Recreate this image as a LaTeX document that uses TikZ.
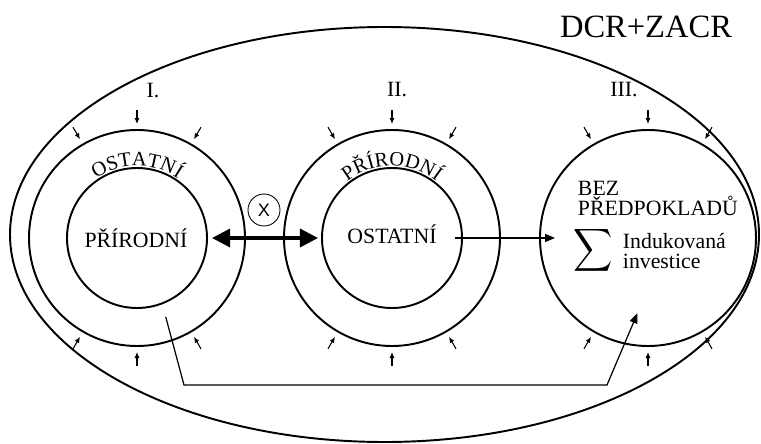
\documentclass[tikz,border=0pt]{standalone}
\usepackage{amsmath}
\usepackage{fontspec}
\setmainfont{Liberation Serif}
\newfontfamily\crossfont{Liberation Sans}
\usetikzlibrary{arrows.meta,decorations.text}

\newcommand{\txtfont}{\fontsize{12.4}{14}\selectfont}
\newcommand{\arcfont}{\fontsize{11.6}{14}\selectfont}

\tikzset{
  ring/.style={circle, draw, inner sep=0pt, outer sep=0pt, minimum size=43.2mm},
  core/.style={circle, draw, inner sep=0pt, outer sep=0pt, minimum size=28mm},
  lbl/.style={font=\txtfont, inner sep=0pt},
  inward/.style={line width=0.6pt, -{Latex[length=1.2mm,width=1mm]}},
  flow/.style={line width=0.7pt, -{Triangle[length=2mm,width=1.6mm]}},
  arctext/.style={decorate, decoration={text along path, text align=center, text={|\arcfont|#1}}},
}

\begin{document}
\begin{tikzpicture}[x=0.2mm, y=0.2mm, line width=1.1pt]
\useasboundingbox (0,0) rectangle (761,443);

% outer zone
\draw (384.5,208.5) ellipse [x radius=374.5, y radius=207.5];
\node[font=\fontsize{18.5}{20}\selectfont, inner sep=0pt] (zone) at (646,416) {DCR+ZACR};

% circles I, II, III
\node[ring] (ringI) at (137,205) {};
\node[core] (coreI) at (137,205) {};
\node[ring] (ringII) at (392,205) {};
\node[core] (coreII) at (392,205) {};
\node[ring] (ringIII) at (648,205) {};

\node[lbl] (numI) at (153,352) {I.};
\node[lbl] (numII) at (397,353) {II.};
\node[lbl] (numIII) at (624,353) {III.};

% small arrows pointing in
\foreach \c in {ringI,ringII,ringIII}
  \foreach \a in {60,90,120,240,270,300}
    \draw[inward] ([shift={(\a:128)}]\c.center) -- ([shift={(\a:114)}]\c.center);

% texts
\node[lbl, anchor=base] (txtI) at (136,196) {PŘÍRODNÍ};
\node[lbl, anchor=base] (txtII) at (392,200) {OSTATNÍ};
\path[arctext=OSTATNÍ] ([shift={(150:72)}]ringI.center) arc (150:30:72);
\path[arctext=PŘÍRODNÍ] ([shift={(150:72)}]ringII.center) arc (150:30:72);

\node[lbl, anchor=base west] (bez) at (577,248) {BEZ};
\node[lbl, anchor=base west] (predp) at (577,228) {PŘEDPOKLADŮ};
\node[inner sep=0pt] (sigma) at (593.5,193) {\scalebox{1.55}[1.7]{$\displaystyle\sum$}};
\node[lbl, anchor=base west] (indu) at (622,195) {Indukovaná};
\node[lbl, anchor=base west] (inv) at (622,175) {investice};

% exchange between I and II
\draw[line width=1.9pt, {Triangle[length=3.6mm,width=3.6mm]}-{Triangle[length=3.6mm,width=3.6mm]},
  shorten <=1mm, shorten >=0.8mm] (coreI.east) -- (coreII.west);
\node[circle, draw, line width=0.5pt, minimum size=6.4mm, inner sep=0pt,
  font=\crossfont\fontsize{10.3}{12}\selectfont] (cross) at (264,233) {X};

% flows to III
\draw[flow, shorten <=3.6mm, shorten >=-3mm] (txtII.east |- ringIII.west) -- (ringIII.west);
\coordinate (bendA) at (184,58);
\coordinate (bendB) at (607,58);
\draw[flow] ([shift={(-70:84)}]ringI.center) -- (bendA) -- (bendB) -- ([shift={(-98:76)}]ringIII.center);

\end{tikzpicture}
\end{document}
